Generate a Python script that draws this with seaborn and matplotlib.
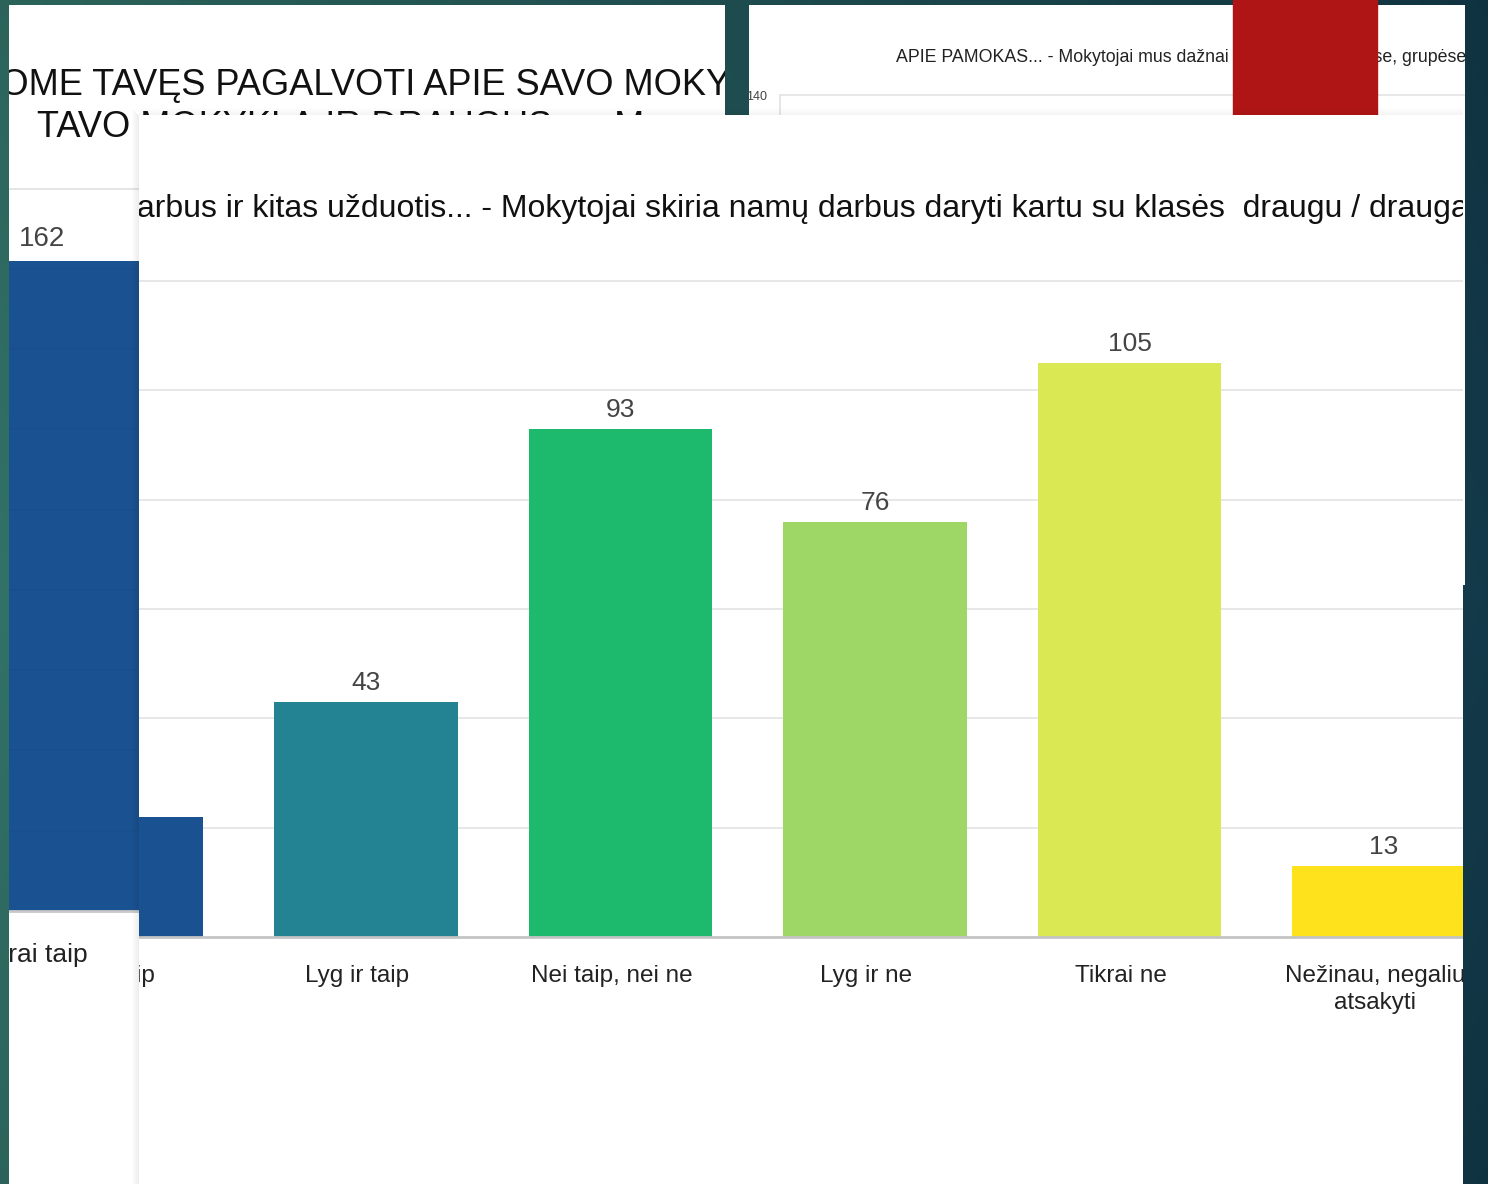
import numpy as np
import matplotlib
matplotlib.use('Agg')
import matplotlib.pyplot as plt
import seaborn as sns
import pandas as pd
from matplotlib.patches import Rectangle
from matplotlib.transforms import offset_copy
from matplotlib.font_manager import FontProperties

# front chart (the one on top)
categories = ['Tikrai taip', 'Lyg ir taip', 'Nei taip, nei ne', 'Lyg ir ne', 'Tikrai ne',
              'Nežinau, negaliu\natsakyti']
values = [22, 43, 93, 76, 105, 13]
bar_colors = ['#1a5190', '#238392', '#1dba6d', '#9ed765', '#d9e853', '#fde21c']
grid_ticks = [20, 40, 60, 80, 100, 120]
title_main = ('Apie namų darbus ir kitas užduotis... - Mokytojai skiria namų darbus '
              'daryti kartu su klasės  draugu / draugais')

# chart behind, on the left
left_categories = ['Tikrai taip']
left_values = [162]
left_ticks = [20, 40, 60, 80, 100, 120, 140, 160, 180]
left_title_1 = 'PRAŠOME TAVĘS PAGALVOTI APIE SAVO MOKYTOJUS,'
left_title_2 = 'TAVO MOKYKLĄ IR DRAUGUS... - Mano mokytojai'

# chart behind, on the right
right_title = 'APIE PAMOKAS... - Mokytojai mus dažnai skatina dirbti porose, grupėse'
right_ticks = [140]

W, H = 1488, 1184
FONT = ['Liberation Sans', 'DejaVu Sans']

sns.set_style('white')
plt.rcParams['font.family'] = FONT

fig = plt.figure(figsize=(W / 100, H / 100), dpi=100)
renderer = fig.canvas.get_renderer()


def px_rect(x0, y0, x1, y1):
    return [x0 / W, 1 - y1 / H, (x1 - x0) / W, (y1 - y0) / H]


def text_w(s, size):
    fp = FontProperties(family=FONT, size=size)
    w, h, d = renderer.get_text_width_height_descent(s, fp, ismath=False)
    return w


def clean(ax):
    for s in ax.spines.values():
        s.set_visible(False)
    ax.set_xlabel('')
    ax.set_ylabel('')
    ax.tick_params(left=False, bottom=False, labelleft=False, labelbottom=False)


# dark teal background
ax_bg = fig.add_axes([0, 0, 1, 1])
ax_bg.set_axis_off()
gx, gy = np.meshgrid(np.linspace(0, 1, 300), np.linspace(0, 1, 240))
c_left = np.array([50, 114, 103]) / 255
c_right = np.array([19, 58, 74]) / 255
img = c_left * (1 - gx[..., None]) + c_right * gx[..., None]
img = img * (1 - 0.25 * np.abs(gy - 0.5)[..., None])
ax_bg.imshow(img, aspect='auto', extent=[0, 1, 0, 1])
ax_bg.set_xlim(0, 1)
ax_bg.set_ylim(0, 1)

# ---- left chart, behind ----
ax_l = fig.add_axes(px_rect(9, 5, 725, 1184))
ax_l.set_facecolor('white')
ax_l.hlines(left_ticks, -1, 3, color='#e8e8e8', lw=1.3, zorder=1)
df_l = pd.DataFrame({'cat': left_categories, 'val': left_values})
sns.barplot(data=df_l, x='cat', y='val', color='#1a5190', saturation=1, width=0.8,
            linewidth=0, ax=ax_l, zorder=2)
ax_l.set_xlim(-0.13, 2.684)
ax_l.set_ylim(-68.05, 225.8)
clean(ax_l)
# faint grid seen through the bar
ax_l.hlines(left_ticks, -1, 3, color='black', alpha=0.025, lw=1.2, zorder=3)
ax_l.hlines([0], -1, 3, color='#c8c8c8', lw=2, zorder=3)
for i, v in enumerate(left_values):
    ax_l.text(i, v, str(v), transform=offset_copy(ax_l.transData, fig, y=15, units='dots'),
              ha='center', va='baseline', fontsize=20, color='#444444',
              clip_on=True, clip_box=ax_l.bbox)
    ax_l.text(i - 0.043, 0, left_categories[i],
              transform=offset_copy(ax_l.transData, fig, y=-32, units='dots'),
              ha='center', va='top', fontsize=19, color='#222222',
              clip_on=True, clip_box=ax_l.bbox)
x1 = 0 - text_w('PRAŠ', 26)
ax_l.text((x1 - 9) / 716, (1184 - 95) / 1179, left_title_1, transform=ax_l.transAxes,
          ha='left', va='baseline', fontsize=26, color='#111111',
          clip_on=True, clip_box=ax_l.bbox)
ax_l.text((37 - 9) / 716, (1184 - 137) / 1179, left_title_2, transform=ax_l.transAxes,
          ha='left', va='baseline', fontsize=26, color='#111111',
          clip_on=True, clip_box=ax_l.bbox)

# ---- right chart, behind ----
ax_r = fig.add_axes(px_rect(749, 5, 1465, 585))
ax_r.set_facecolor('white')
clean(ax_r)
ax_r.text((896 - 749) / 716, (585 - 62) / 580, right_title, transform=ax_r.transAxes,
          ha='left', va='baseline', fontsize=12.8, color='#222222',
          clip_on=True, clip_box=ax_r.bbox)
ax_r2 = fig.add_axes(px_rect(780, 95, 1465, 585))
ax_r2.set_facecolor('none')
ax_r2.set_ylim(60, 140)
ax_r2.set_xlim(0, 1)
for s in ['top', 'right', 'bottom']:
    ax_r2.spines[s].set_visible(False)
ax_r2.spines['left'].set_color('#e2e2e2')
ax_r2.spines['left'].set_linewidth(1.2)
ax_r2.set_yticks(right_ticks)
ax_r2.set_xticks([])
ax_r2.tick_params(axis='y', length=0, pad=9, labelsize=9, labelcolor='#444444')
ax_r2.hlines(right_ticks, 0, 1, color='#e6e6e6', lw=1.3, clip_on=False)

# red block covering part of the right title
fig.add_artist(Rectangle((1233 / W, 1 - 115 / H), 144 / W, 115 / H,
                         transform=fig.transFigure, color='#b01515', zorder=1))

# soft shadow round the front panel
for k in range(7):
    a = 0.07 * (7 - k) / 7
    fig.add_artist(Rectangle(((139 - k - 1) / W, 0), 1 / W, (H - 115 + k) / H,
                             transform=fig.transFigure, color='black', alpha=a,
                             lw=0, zorder=1.5))
    fig.add_artist(Rectangle((139 / W, 1 - (115 - k) / H), (1463 - 139) / W, 1 / H,
                             transform=fig.transFigure, color='black', alpha=a * 0.6,
                             lw=0, zorder=1.5))

# ---- front chart ----
ax = fig.add_axes(px_rect(139, 115, 1463, 1184))
ax.set_zorder(2)
ax.set_facecolor('white')
df = pd.DataFrame({'cat': categories, 'val': values})
sns.barplot(data=df, x='cat', y='val', hue='cat', palette=bar_colors, legend=False,
            saturation=1, width=0.72, linewidth=0, ax=ax, zorder=2)
ax.set_xlim(0.108, 5.31)
ax.set_ylim(-45.2, 150.4)
clean(ax)
ax.set_yticks(grid_ticks)
ax.grid(axis='y', color='#e5e5e5', lw=1.3)
ax.grid(axis='x', visible=False)
ax.set_axisbelow(True)
ax.axhline(0, color='#c4c4c4', lw=2, zorder=3)

for i, v in enumerate(values):
    ax.text(i, v, str(v), transform=offset_copy(ax.transData, fig, y=12, units='dots'),
            ha='center', va='baseline', fontsize=19, color='#444444',
            clip_on=True, clip_box=ax.bbox)
    ax.text(i - 0.035, 0, categories[i],
            transform=offset_copy(ax.transData, fig, y=-28, units='dots'),
            ha='center', va='top', fontsize=17.5, color='#222222', linespacing=1.3,
            clip_on=True, clip_box=ax.bbox)

xt = 137 - text_w('Apie namų d', 23)
ax.text((xt - 139) / 1324, (1184 - 217) / 1069, title_main, transform=ax.transAxes,
        ha='left', va='baseline', fontsize=23, color='#111111',
        clip_on=True, clip_box=ax.bbox)

fig.savefig('out.png', dpi=100)
